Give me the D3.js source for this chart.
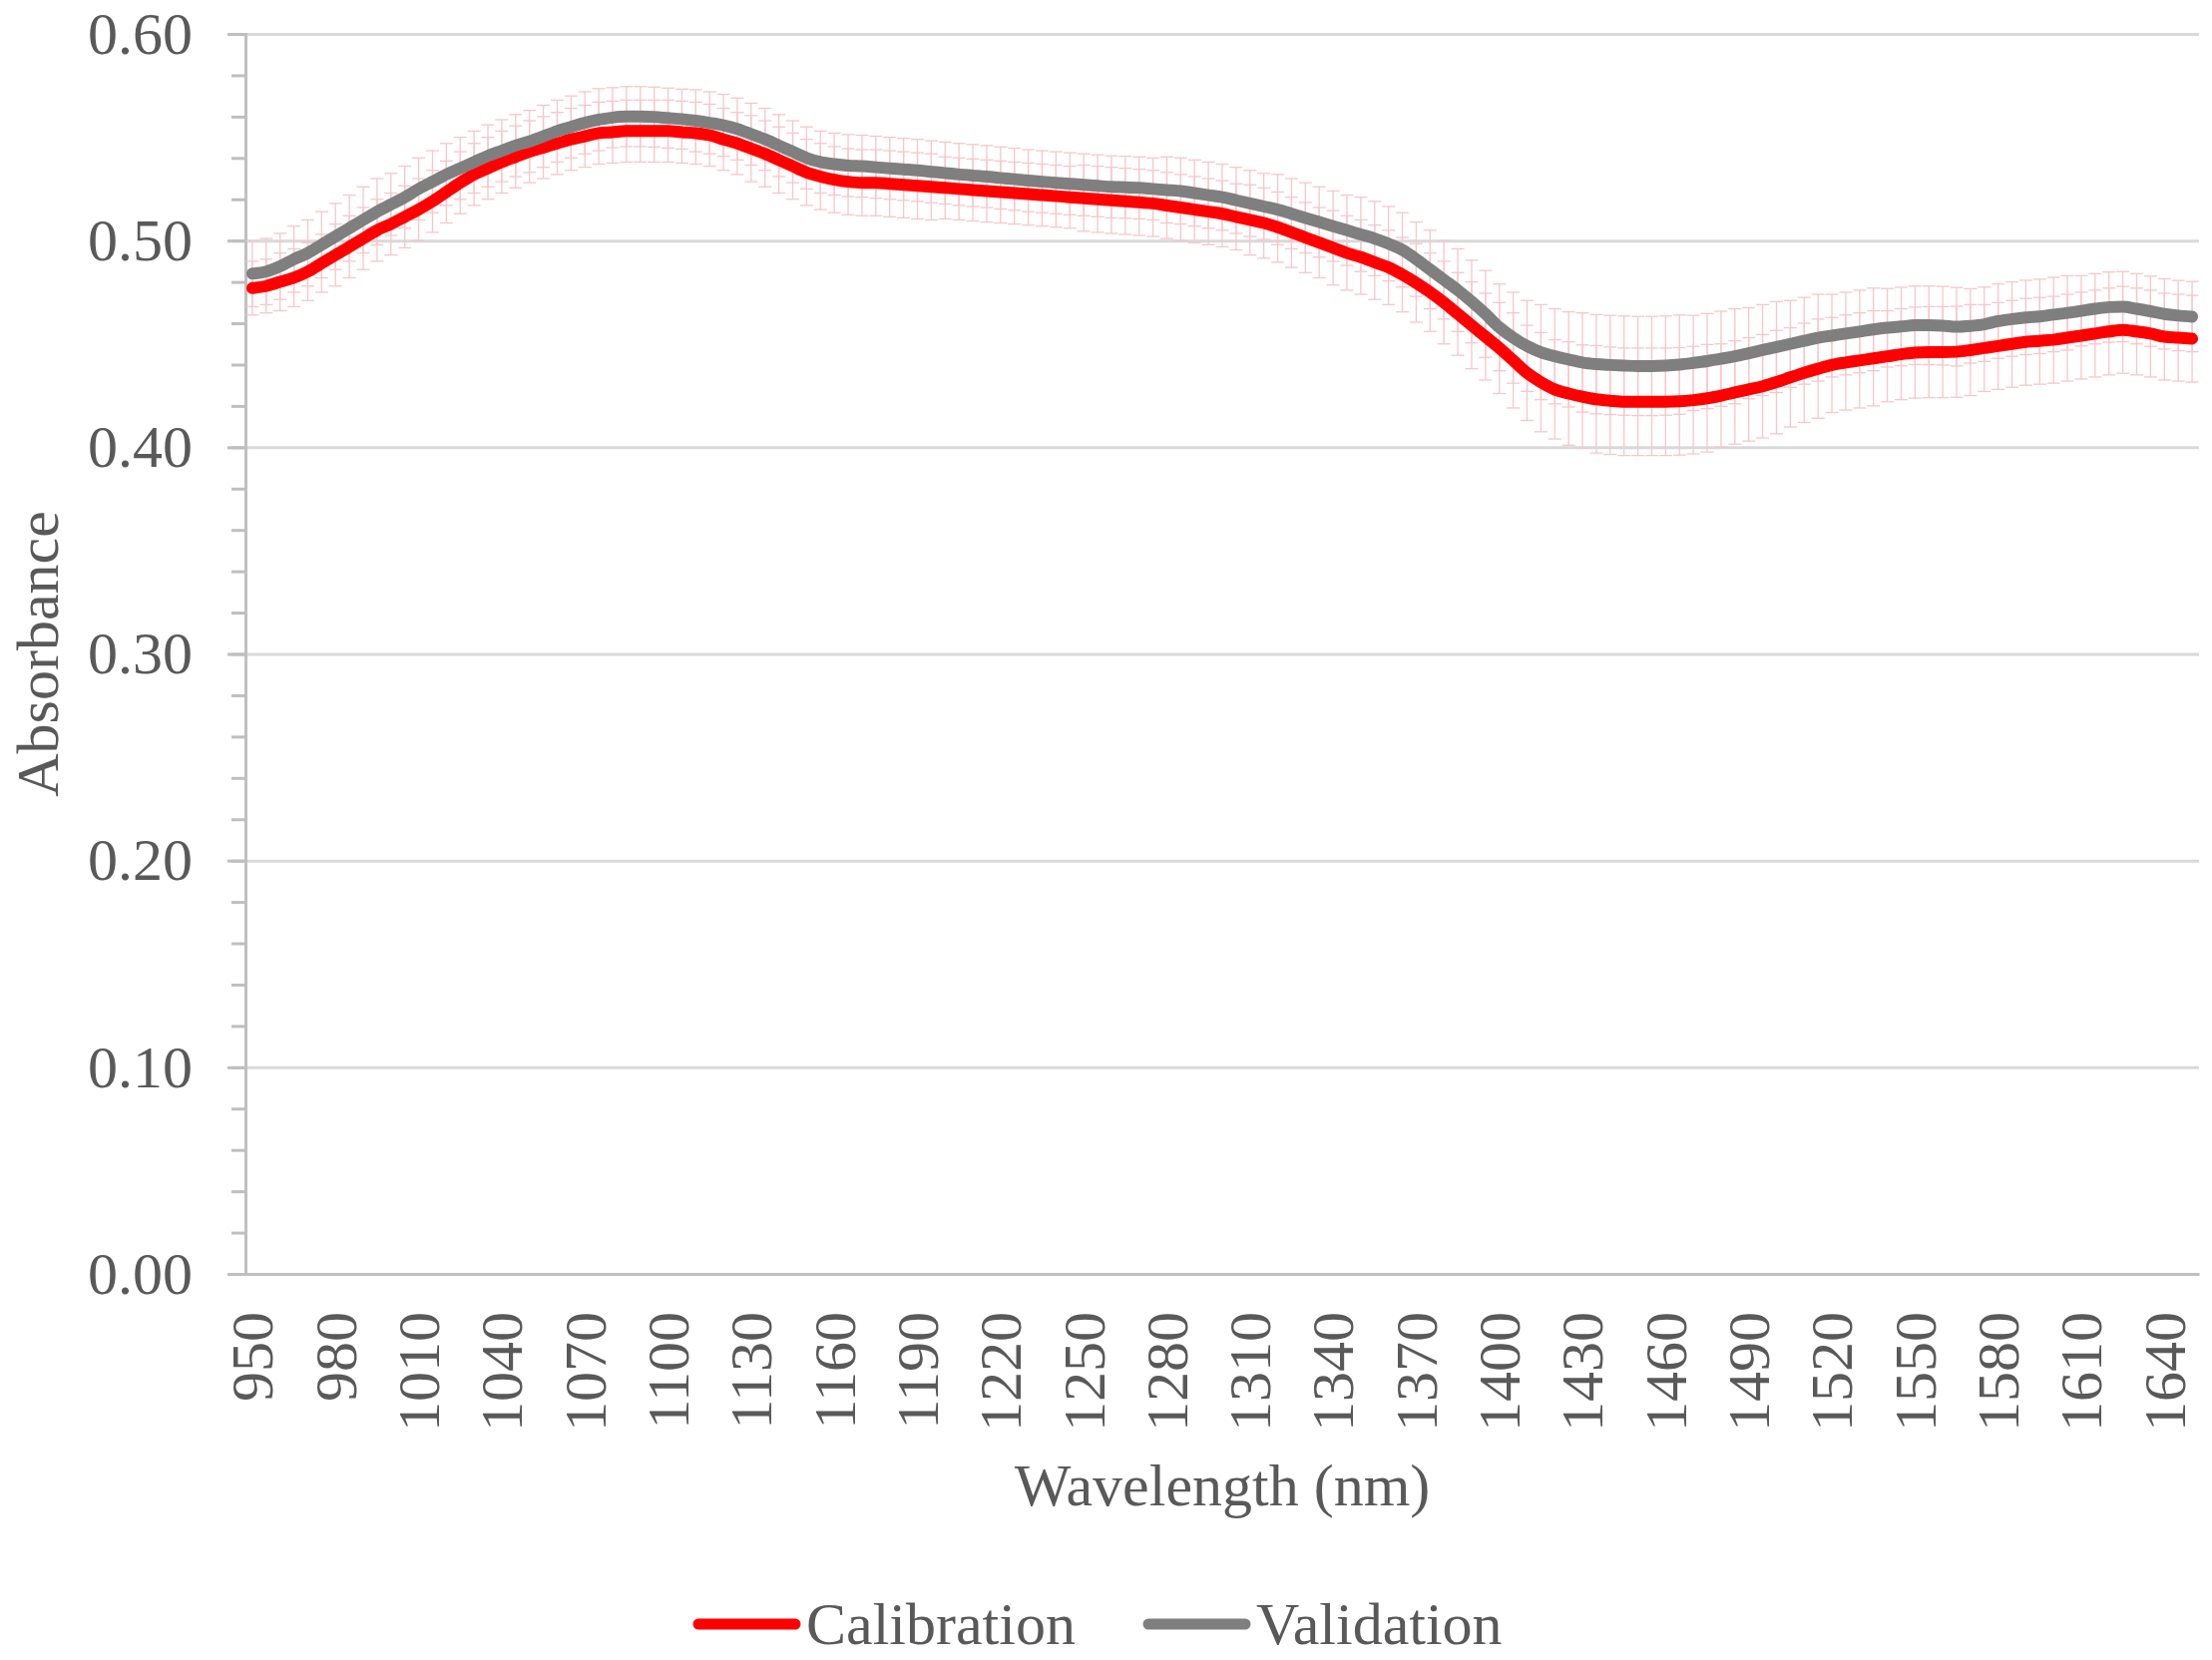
<!DOCTYPE html>
<html>
<head>
<meta charset="utf-8">
<script src="https://cdnjs.cloudflare.com/ajax/libs/d3/7.8.5/d3.min.js"></script>
<style>
  body { margin: 0; background: #fff; }
  svg { display: block; }
  text { font-family: "Liberation Serif", "Times New Roman", serif; fill: #595959; }
</style>
</head>
<body>
<div id="chart"></div>
<script>
// wavelengths (nm), one category every 5 nm
var wavelengths = [
    950, 955, 960, 965, 970, 975, 980, 985, 990, 995,
    1000, 1005, 1010, 1015, 1020, 1025, 1030, 1035, 1040, 1045,
    1050, 1055, 1060, 1065, 1070, 1075, 1080, 1085, 1090, 1095,
    1100, 1105, 1110, 1115, 1120, 1125, 1130, 1135, 1140, 1145,
    1150, 1155, 1160, 1165, 1170, 1175, 1180, 1185, 1190, 1195,
    1200, 1205, 1210, 1215, 1220, 1225, 1230, 1235, 1240, 1245,
    1250, 1255, 1260, 1265, 1270, 1275, 1280, 1285, 1290, 1295,
    1300, 1305, 1310, 1315, 1320, 1325, 1330, 1335, 1340, 1345,
    1350, 1355, 1360, 1365, 1370, 1375, 1380, 1385, 1390, 1395,
    1400, 1405, 1410, 1415, 1420, 1425, 1430, 1435, 1440, 1445,
    1450, 1455, 1460, 1465, 1470, 1475, 1480, 1485, 1490, 1495,
    1500, 1505, 1510, 1515, 1520, 1525, 1530, 1535, 1540, 1545,
    1550, 1555, 1560, 1565, 1570, 1575, 1580, 1585, 1590, 1595,
    1600, 1605, 1610, 1615, 1620, 1625, 1630, 1635, 1640, 1645,
    1650
];

var xTickLabels = [950, 980, 1010, 1040, 1070, 1100, 1130, 1160, 1190, 1220, 1250, 1280,
    1310, 1340, 1370, 1400, 1430, 1460, 1490, 1520, 1550, 1580, 1610, 1640];

var yTicks = [0, 0.1, 0.2, 0.3, 0.4, 0.5, 0.6];

var calibration = [
    0.477, 0.478, 0.480, 0.482, 0.485, 0.489, 0.493, 0.497, 0.501, 0.505,
    0.508, 0.5115, 0.515, 0.519, 0.5235, 0.528, 0.532, 0.535, 0.538, 0.5405,
    0.543, 0.545, 0.547, 0.549, 0.5505, 0.552, 0.5525, 0.553, 0.553, 0.553,
    0.553, 0.5525, 0.552, 0.551, 0.549, 0.547, 0.5445, 0.542, 0.539, 0.536,
    0.533, 0.531, 0.5295, 0.5285, 0.528, 0.528, 0.5275, 0.527, 0.5265, 0.526,
    0.5255, 0.525, 0.5245, 0.524, 0.5235, 0.523, 0.5225, 0.522, 0.5215, 0.521,
    0.5205, 0.520, 0.5195, 0.519, 0.5185, 0.518, 0.517, 0.516, 0.515, 0.514,
    0.513, 0.5115, 0.510, 0.5085, 0.5065, 0.504, 0.5015, 0.499, 0.4965, 0.494,
    0.492, 0.4895, 0.487, 0.4835, 0.4795, 0.475, 0.4700, 0.4645, 0.459, 0.4535,
    0.448, 0.442, 0.436, 0.4315, 0.428, 0.426, 0.4245, 0.4232, 0.4225, 0.422,
    0.422, 0.422, 0.422, 0.4222, 0.4228, 0.4237, 0.425, 0.4265, 0.428, 0.4295,
    0.4315, 0.4338, 0.436, 0.438, 0.4398, 0.441, 0.442, 0.443, 0.444, 0.445,
    0.4458, 0.446, 0.446, 0.4462, 0.447, 0.448, 0.449, 0.450, 0.451, 0.4515,
    0.452, 0.453, 0.454, 0.455, 0.456, 0.4568, 0.456, 0.455, 0.4535, 0.453,
    0.4525
];

var validation = [
    0.484, 0.485, 0.4875, 0.491, 0.494, 0.498, 0.502, 0.506, 0.510, 0.514,
    0.5175, 0.521, 0.525, 0.5285, 0.532, 0.535, 0.538, 0.541, 0.5435, 0.546,
    0.548, 0.5505, 0.553, 0.555, 0.557, 0.5585, 0.5595, 0.560, 0.560, 0.5598,
    0.5593, 0.5588, 0.558, 0.557, 0.5558, 0.554, 0.5515, 0.549, 0.546, 0.543,
    0.540, 0.538, 0.537, 0.5363, 0.536, 0.5355, 0.535, 0.5345, 0.534, 0.5333,
    0.5327, 0.532, 0.5315, 0.531, 0.5303, 0.5297, 0.529, 0.5285, 0.528, 0.5275,
    0.527, 0.5265, 0.526, 0.5258, 0.5255, 0.525, 0.5245, 0.524, 0.523, 0.522,
    0.521, 0.5195, 0.518, 0.5165, 0.515, 0.513, 0.511, 0.509, 0.507, 0.505,
    0.503, 0.501, 0.4985, 0.4955, 0.491, 0.486, 0.481, 0.476, 0.4705, 0.4645,
    0.458, 0.453, 0.449, 0.446, 0.444, 0.4425, 0.441, 0.4402, 0.4398, 0.4395,
    0.4393, 0.4393, 0.4395, 0.440, 0.4408, 0.4417, 0.4428, 0.444, 0.4455, 0.447,
    0.4485, 0.450, 0.4515, 0.453, 0.454, 0.455, 0.456, 0.457, 0.4578, 0.4584,
    0.459, 0.459, 0.4588, 0.4583, 0.4587, 0.4595, 0.461, 0.462, 0.4628, 0.4633,
    0.4642, 0.465, 0.466, 0.467, 0.4678, 0.468, 0.467, 0.4658, 0.4645, 0.4637,
    0.4632
];

// standard deviations (error bars)
var calibrationSD = [
    0.013, 0.013, 0.014, 0.014, 0.014, 0.014, 0.015, 0.015, 0.015, 0.015,
    0.015, 0.015, 0.015, 0.015, 0.015, 0.015, 0.015, 0.015, 0.015, 0.015,
    0.015, 0.015, 0.015, 0.015, 0.015, 0.015, 0.015, 0.015, 0.015, 0.015,
    0.015, 0.015, 0.015, 0.015, 0.015, 0.015, 0.016, 0.016, 0.016, 0.016,
    0.016, 0.016, 0.016, 0.016, 0.016, 0.016, 0.016, 0.016, 0.016, 0.016,
    0.015, 0.015, 0.015, 0.015, 0.015, 0.015, 0.015, 0.015, 0.015, 0.015,
    0.016, 0.016, 0.016, 0.016, 0.016, 0.016, 0.016, 0.016, 0.016, 0.016,
    0.016, 0.016, 0.017, 0.017, 0.017, 0.017, 0.017, 0.017, 0.018, 0.018,
    0.018, 0.018, 0.018, 0.018, 0.019, 0.019, 0.020, 0.020, 0.021, 0.021,
    0.022, 0.023, 0.023, 0.024, 0.024, 0.025, 0.025, 0.026, 0.026, 0.026,
    0.026, 0.026, 0.026, 0.026, 0.026, 0.026, 0.025, 0.025, 0.025, 0.025,
    0.025, 0.024, 0.024, 0.024, 0.023, 0.023, 0.023, 0.023, 0.022, 0.022,
    0.022, 0.022, 0.022, 0.022, 0.022, 0.021, 0.021, 0.021, 0.021, 0.021,
    0.021, 0.021, 0.021, 0.021, 0.021, 0.021, 0.021, 0.021, 0.021, 0.021,
    0.021
];

var validationSD = [
    0.016, 0.016, 0.016, 0.016, 0.016, 0.016, 0.016, 0.016, 0.016, 0.016,
    0.015, 0.015, 0.015, 0.015, 0.015, 0.015, 0.015, 0.015, 0.015, 0.015,
    0.015, 0.015, 0.015, 0.015, 0.015, 0.015, 0.0145, 0.0145, 0.0145, 0.0145,
    0.0145, 0.0145, 0.015, 0.015, 0.015, 0.015, 0.015, 0.015, 0.015, 0.015,
    0.015, 0.015, 0.015, 0.015, 0.015, 0.015, 0.015, 0.015, 0.015, 0.015,
    0.015, 0.015, 0.015, 0.015, 0.015, 0.015, 0.015, 0.015, 0.015, 0.015,
    0.015, 0.015, 0.015, 0.015, 0.015, 0.015, 0.016, 0.016, 0.016, 0.016,
    0.016, 0.016, 0.016, 0.016, 0.017, 0.017, 0.017, 0.017, 0.017, 0.017,
    0.018, 0.018, 0.018, 0.018, 0.018, 0.019, 0.019, 0.020, 0.020, 0.021,
    0.021, 0.022, 0.022, 0.023, 0.023, 0.023, 0.024, 0.024, 0.024, 0.024,
    0.024, 0.024, 0.024, 0.024, 0.023, 0.023, 0.023, 0.023, 0.022, 0.022,
    0.022, 0.021, 0.021, 0.021, 0.020, 0.020, 0.020, 0.020, 0.019, 0.019,
    0.019, 0.019, 0.019, 0.019, 0.018, 0.018, 0.018, 0.018, 0.018, 0.018,
    0.018, 0.018, 0.017, 0.017, 0.017, 0.017, 0.017, 0.017, 0.017, 0.017,
    0.017
];

var seriesNames = ["Calibration", "Validation"],
    seriesColors = ["#ff0000", "#7f7f7f"];

var W = 2217, H = 1664;
var margin = {top: 34, right: 13, bottom: 387, left: 246},
    width = W - margin.left - margin.right,
    height = H - margin.top - margin.bottom;

var svg = d3.select("#chart").append("svg")
    .attr("width", W)
    .attr("height", H);

var g = svg.append("g")
    .attr("transform", "translate(" + margin.left + "," + margin.top + ")");

// category axis, points sit between the tick marks
var x = d3.scaleBand()
    .domain(wavelengths)
    .range([0, width])
    .padding(0);

var xc = function(w) { return x(w) + x.bandwidth() / 2; };

var y = d3.scaleLinear()
    .domain([0, 0.6])
    .range([height, 0]);

// gridlines
g.append("g")
    .attr("class", "grid")
    .call(d3.axisLeft(y).tickValues(yTicks.slice(1)).tickSize(-width).tickFormat(""))
    .call(function(s) {
        s.select(".domain").remove();
        s.selectAll("line").attr("stroke", "#d9d9d9").attr("stroke-width", 3);
    });

// minor y ticks every 0.02
var minorTicks = d3.range(0, 0.6001, 0.02);
g.append("g")
    .call(d3.axisLeft(y).tickValues(minorTicks).tickSize(14).tickFormat(""))
    .call(function(s) {
        s.select(".domain").remove();
        s.selectAll("line").attr("stroke", "#bfbfbf").attr("stroke-width", 3);
    });

// y axis
g.append("g")
    .call(d3.axisLeft(y).tickValues(yTicks).tickSize(18).tickPadding(35).tickFormat(d3.format(".2f")))
    .call(function(s) {
        s.select(".domain").attr("stroke", "#bfbfbf").attr("stroke-width", 3);
        s.selectAll("line").attr("stroke", "#bfbfbf").attr("stroke-width", 3);
        s.selectAll("text")
            .attr("font-size", 60)
            .attr("font-family", "Liberation Serif")
            .attr("fill", "#595959");
    });

// x axis
g.append("g")
    .attr("transform", "translate(0," + height + ")")
    .call(d3.axisBottom(x).tickValues(xTickLabels).tickSize(0).tickPadding(0))
    .call(function(s) {
        s.select(".domain").attr("stroke", "#bfbfbf").attr("stroke-width", 3);
        s.selectAll("text")
            .attr("font-size", 60)
            .attr("font-family", "Liberation Serif")
            .attr("fill", "#595959")
            .attr("text-anchor", "end")
            .attr("transform", "translate(0,38) rotate(-90)")
            .attr("x", 0)
            .attr("y", 0)
            .attr("dy", "0.34em");
    });

// error bars, drawn underneath the lines
function drawErrorBars(values, sds, cls) {
    var eb = g.append("g").attr("class", cls)
        .attr("stroke", "#f7c6cb")
        .attr("stroke-width", 1.3);
    var capW = 6.5;
    var pts = wavelengths.map(function(w, i) { return {w: w, v: values[i], sd: sds[i]}; });
    eb.selectAll("line.v").data(pts).join("line")
        .attr("class", "v")
        .attr("x1", function(d) { return xc(d.w); })
        .attr("x2", function(d) { return xc(d.w); })
        .attr("y1", function(d) { return y(d.v - d.sd); })
        .attr("y2", function(d) { return y(d.v + d.sd); });
    eb.selectAll("line.lo").data(pts).join("line")
        .attr("class", "lo")
        .attr("x1", function(d) { return xc(d.w) - capW; })
        .attr("x2", function(d) { return xc(d.w) + capW; })
        .attr("y1", function(d) { return y(d.v - d.sd); })
        .attr("y2", function(d) { return y(d.v - d.sd); });
    eb.selectAll("line.hi").data(pts).join("line")
        .attr("class", "hi")
        .attr("x1", function(d) { return xc(d.w) - capW; })
        .attr("x2", function(d) { return xc(d.w) + capW; })
        .attr("y1", function(d) { return y(d.v + d.sd); })
        .attr("y2", function(d) { return y(d.v + d.sd); });
}

drawErrorBars(calibration, calibrationSD, "err-cal");
drawErrorBars(validation, validationSD, "err-val");

var line = d3.line()
    .x(function(d, i) { return xc(wavelengths[i]); })
    .y(function(d) { return y(d); })
    .curve(d3.curveMonotoneX);

[calibration, validation].forEach(function(series, k) {
    g.append("path")
        .datum(series)
        .attr("fill", "none")
        .attr("stroke", seriesColors[k])
        .attr("stroke-width", 12)
        .attr("stroke-linecap", "round")
        .attr("stroke-linejoin", "round")
        .attr("d", line);
});

// axis titles
svg.append("text")
    .attr("transform", "translate(58," + (margin.top + height / 2) + ") rotate(-90)")
    .attr("text-anchor", "middle")
    .attr("font-size", 60)
    .text("Absorbance");

svg.append("text")
    .attr("x", margin.left + width / 2)
    .attr("y", 1488)
    .attr("dy", "0.35em")
    .attr("text-anchor", "middle")
    .attr("font-size", 60)
    .text("Wavelength (nm)");

// legend
var legendY = 1628;
var legendItems = [
    {name: seriesNames[0], color: seriesColors[0], x1: 700, x2: 797, tx: 808},
    {name: seriesNames[1], color: seriesColors[1], x1: 1151, x2: 1248, tx: 1259}
];
var legend = svg.append("g").attr("class", "legend");
legend.selectAll("line").data(legendItems).join("line")
    .attr("x1", function(d) { return d.x1; })
    .attr("x2", function(d) { return d.x2; })
    .attr("y1", legendY)
    .attr("y2", legendY)
    .attr("stroke", function(d) { return d.color; })
    .attr("stroke-width", 11)
    .attr("stroke-linecap", "round");
legend.selectAll("text").data(legendItems).join("text")
    .attr("x", function(d) { return d.tx; })
    .attr("y", legendY)
    .attr("dy", "0.33em")
    .attr("font-size", 60)
    .text(function(d) { return d.name; });
</script>
</body>
</html>
